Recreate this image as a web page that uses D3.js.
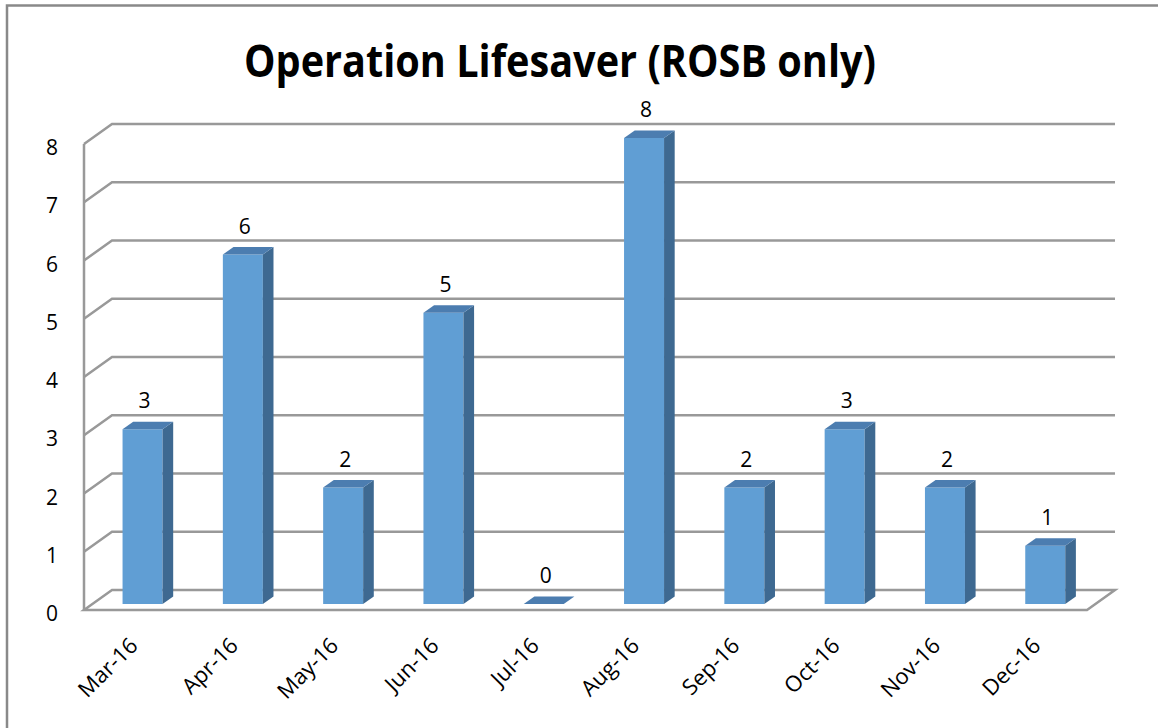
<!DOCTYPE html>
<html>
<head>
<meta charset="utf-8">
<script src="https://cdn.jsdelivr.net/npm/d3@7"></script>
<style>
  body { margin: 0; background: #fff; }
  text { font-family: "Open Sans", "Liberation Sans", sans-serif; }
</style>
</head>
<body>
<div id="app"></div>
<script>
var months = ["Mar-16", "Apr-16", "May-16", "Jun-16", "Jul-16", "Aug-16", "Sep-16", "Oct-16", "Nov-16", "Dec-16"];
var counts = [3, 6, 2, 5, 0, 8, 2, 3, 2, 1];
var yTicks = [0, 1, 2, 3, 4, 5, 6, 7, 8];
var title = "Operation Lifesaver (ROSB only)";

var width = 1158, height = 728;
var depthX = 28, depthY = -20;      // wall depth
var barFrac = 0.3, barDepth = 0.38; // where bar sits in the depth, how deep it is

var svg = d3.select("#app").append("svg")
    .attr("width", width)
    .attr("height", height);

// outer chart border (only left/top visible)
svg.append("path")
    .attr("d", "M7,728 L7,5.5 L1158,5.5")
    .attr("fill", "none")
    .attr("stroke", "#898989")
    .attr("stroke-width", 2.5);

svg.append("text")
    .attr("x", 560)
    .attr("y", 77)
    .attr("text-anchor", "middle")
    .attr("font-size", 45)
    .attr("font-weight", "bold")
    .attr("textLength", 632)
    .attr("lengthAdjust", "spacingAndGlyphs")
    .text(title);

var x = d3.scaleBand().domain(months).range([84, 1087]);
var y = d3.scaleLinear().domain([0, 8]).range([610, 144]);

var grid = svg.append("g")
    .attr("fill", "none")
    .attr("stroke", "#999")
    .attr("stroke-width", 2.5);

// gridlines on the back wall with the side step
grid.selectAll("path.g")
    .data(yTicks.filter(function(d) { return d > 0; }))
    .enter().append("path")
    .attr("d", function(d) {
        return "M84," + y(d) + " L" + (84 + depthX) + "," + (y(d) + depthY) + " L" + (1087 + depthX) + "," + (y(d) + depthY);
    });

// floor
grid.append("path")
    .attr("d", "M" + (84 + depthX) + "," + (y(0) + depthY) + " L84," + y(0) + " L1087," + y(0) +
        " L" + (1087 + depthX) + "," + (y(0) + depthY) + " Z");

// left axis line
grid.append("path").attr("d", "M84," + y(8) + " L84," + y(0));

svg.selectAll("text.ytick")
    .data(yTicks)
    .enter().append("text")
    .attr("class", "ytick")
    .attr("x", 58)
    .attr("y", function(d) { return y(d); })
    .attr("dy", "0.53em")
    .attr("text-anchor", "end")
    .attr("font-size", 21)
    .text(function(d) { return d; });

var bw = 40;
var fx = barFrac * depthX, fy = barFrac * depthY;
var bx = barDepth * depthX, by = barDepth * depthY;

var bars = svg.selectAll("g.bar")
    .data(months.map(function(m, i) { return {m: m, v: counts[i]}; }))
    .enter().append("g")
    .attr("class", "bar");

function bx0(d) { return x(d.m) + (x.bandwidth() - bw) / 2 + fx; }

bars.append("rect")
    .attr("x", bx0)
    .attr("y", function(d) { return y(d.v) + fy; })
    .attr("width", bw)
    .attr("height", function(d) { return y(0) - y(d.v); })
    .attr("fill", "#609ed4");

bars.append("path")
    .attr("d", function(d) {
        var l = bx0(d) + bw, t = y(d.v) + fy, b = y(0) + fy;
        return "M" + l + "," + t + " L" + (l + bx) + "," + (t + by) + " L" + (l + bx) + "," + (b + by) + " L" + l + "," + b + " Z";
    })
    .attr("fill", "#3e6991");

bars.append("path")
    .attr("d", function(d) {
        var l = bx0(d), t = y(d.v) + fy;
        return "M" + l + "," + t + " L" + (l + bx) + "," + (t + by) + " L" + (l + bw + bx) + "," + (t + by) + " L" + (l + bw) + "," + t + " Z";
    })
    .attr("fill", "#4c7db0");

bars.append("text")
    .attr("x", function(d) { return bx0(d) + bw / 2 + 2; })
    .attr("y", function(d) { return y(d.v) + fy - 21; })
    .attr("text-anchor", "middle")
    .attr("font-size", 21)
    .text(function(d) { return d.v; });

svg.selectAll("text.xtick")
    .data(months)
    .enter().append("text")
    .attr("class", "xtick")
    .attr("transform", function(d) { return "translate(" + (x(d) + x.bandwidth() / 2 + 5) + ",647) rotate(-45)"; })
    .attr("text-anchor", "end")
    .attr("font-size", 22)
    .text(function(d) { return d; });
</script>
</body>
</html>
